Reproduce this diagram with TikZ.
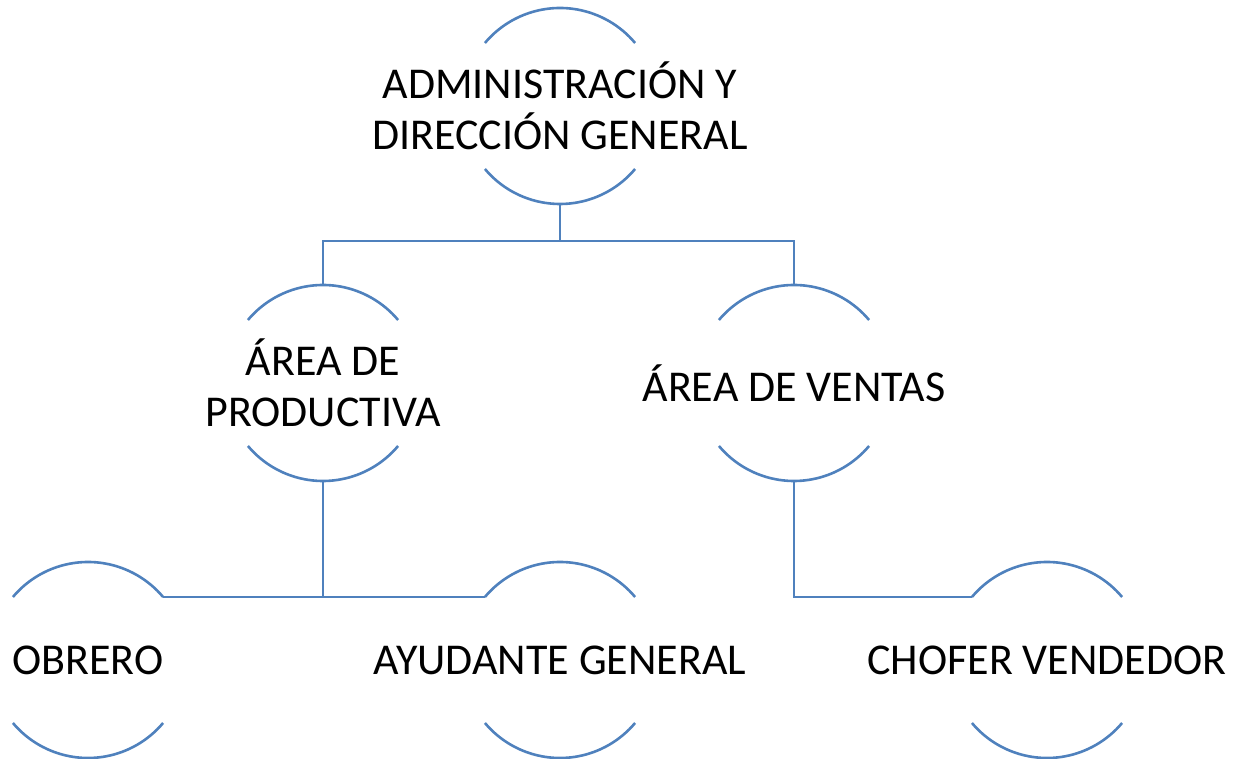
\documentclass[tikz,border=0pt]{standalone}
\usepackage{fontspec}
\setmainfont{Carlito}
\definecolor{azul}{HTML}{4F81BD}
\tikzset{
	arco/.style={circle, minimum size=196pt, inner sep=0pt, outer sep=0pt},
	texto/.style={align=center, font=\fontsize{44}{51}\selectfont, inner sep=0pt},
	linea/.style={draw=azul, line width=2.6pt}
}
\begin{document}
\begin{tikzpicture}[x=1pt, y=1pt]
		\useasboundingbox (0,0) rectangle (1239,759);
		%Kreise
		\node[arco] (adm) at (560,653) {};
		\node[arco] (prod) at (323,376) {};
		\node[arco] (vent) at (794,376) {};
		\node[arco] (obr) at (88,99) {};
		\node[arco] (ayu) at (560,99) {};
		\node[arco] (cho) at (1047,99) {};
		\foreach \n in {adm,prod,vent,obr,ayu,cho} {
			\draw[linea] (\n.140) arc[start angle=140, end angle=40, radius=98];
			\draw[linea] (\n.220) arc[start angle=220, end angle=320, radius=98];
		}
		%Texte
		\node[texto] (adm-t) at (adm) {ADMINISTRACIÓN Y\\DIRECCIÓN GENERAL};
		\node[texto] (prod-t) at (prod) {ÁREA DE\\PRODUCTIVA};
		\node[texto] (vent-t) at (vent) {ÁREA DE VENTAS};
		\node[texto] (obr-t) at (obr) {OBRERO};
		\node[texto] (ayu-t) at (ayu) {AYUDANTE GENERAL};
		\node[texto] (cho-t) at (cho) {CHOFER VENDEDOR};
		%Verbindungen
		\draw[linea] (adm.south) -- ++(0,-38);
		\draw[linea] (prod.north) -- ++(0,44) -| (vent.north);
		\draw[linea] (prod.south) |- (obr.40);
		\draw[linea] (prod.south) |- (ayu.140);
		\draw[linea] (vent.south) |- (cho.140);
\end{tikzpicture}
\end{document}
